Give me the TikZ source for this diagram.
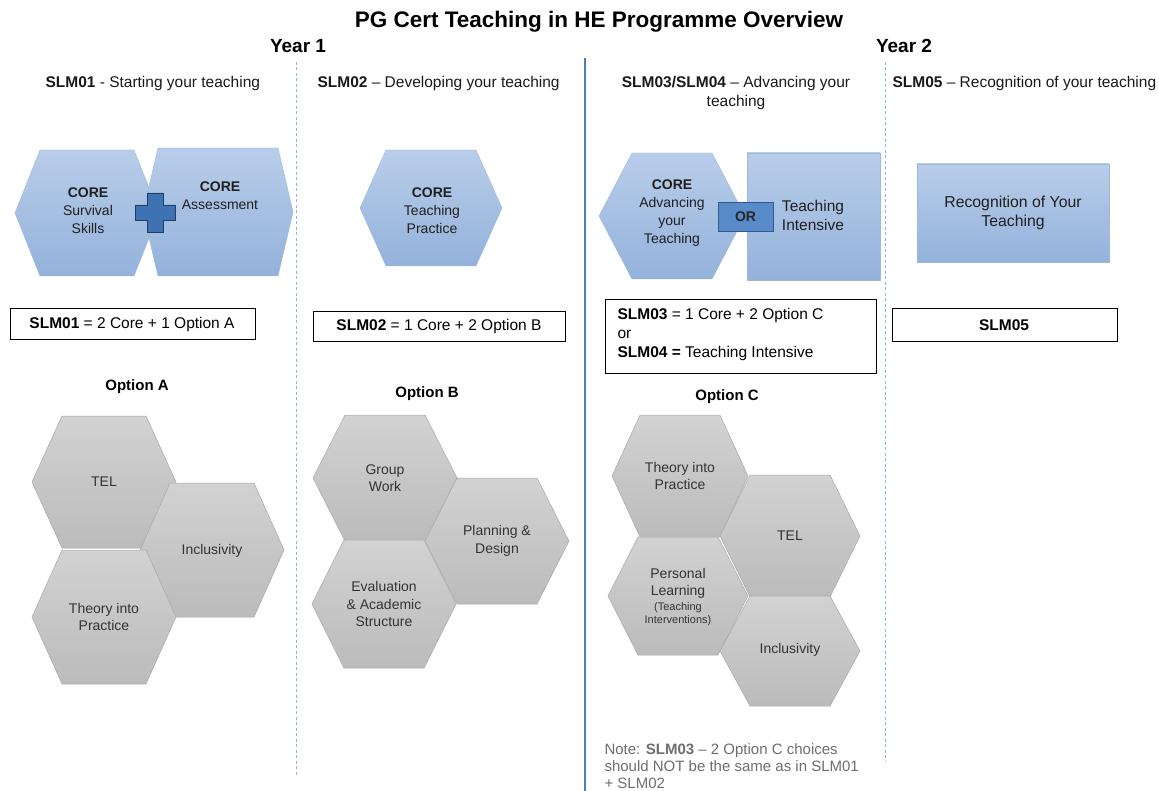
\documentclass[tikz,border=0pt]{standalone}
\usepackage{fontspec}
\setmainfont{Liberation Sans}
\begin{document}
\begin{tikzpicture}[x=1pt,y=-1pt,
  bluehex/.style={top color=bluetop, bottom color=bluebot, draw=blueedge, line width=0.4pt},
  grayhex/.style={top color=graytop, bottom color=graybot, draw=grayedge, line width=0.5pt},
  bluerect/.style={top color=bluetop, bottom color=bluebot, draw=blueedge, line width=0.6pt},
  hextext/.style={align=center, font=\fontsize{14}{18}\selectfont, text=black!88},
  graytext/.style={align=center, font=\fontsize{14}{17.5}\selectfont, text=black!80},
  headtext/.style={anchor=west, font=\fontsize{15.5}{19}\selectfont, text=black!90},
  formbox/.style={draw=black, line width=0.9pt, fill=white},
  formtext/.style={font=\fontsize{15.5}{19}\selectfont},
  optlabel/.style={font=\bfseries\fontsize{15}{17}\selectfont},
  yeardash/.style={draw=dashblue, line width=0.8pt, dash pattern=on 3pt off 2.5pt},
]
\definecolor{bluetop}{HTML}{B9CDE9}
\definecolor{bluebot}{HTML}{93B2DB}
\definecolor{blueedge}{HTML}{9DB8DE}
\definecolor{graytop}{HTML}{D2D2D2}
\definecolor{graybot}{HTML}{BBBBBB}
\definecolor{grayedge}{HTML}{A9A9A9}
\definecolor{dashblue}{HTML}{8EB4E3}
\definecolor{solidblue}{HTML}{4A7EBB}
\definecolor{crossfill}{HTML}{3F72B3}
\definecolor{crossedge}{HTML}{1E3C66}
\definecolor{orfill}{HTML}{5A8BC9}
\definecolor{oredge}{HTML}{2F5B93}
\definecolor{notegray}{HTML}{6E6E6E}

\newcommand{\hexagonat}[6]{%
  \path[#1] (#2-#4,#3) -- (#2-#5,#3-#6) -- (#2+#5,#3-#6) -- (#2+#4,#3)
    -- (#2+#5,#3+#6) -- (#2-#5,#3+#6) -- cycle;}

\useasboundingbox (0,0) rectangle (1159,791);
\fill[white] (0,0) rectangle (1159,791);

% title and years
\node[font=\bfseries\fontsize{22.5}{25}\selectfont] (title) at (599,22) {PG Cert Teaching in HE Programme Overview};
\node[font=\bfseries\fontsize{19}{22}\selectfont] (year1) at (298,46) {Year 1};
\node[font=\bfseries\fontsize{19}{22}\selectfont] (year2) at (904,46) {Year 2};

% separators
\coordinate (d1t) at (296,62); \coordinate (d1b) at (296,776);
\coordinate (d2t) at (885,62); \coordinate (d2b) at (885,762);
\coordinate (st) at (585,58); \coordinate (sb) at (585,791);
\draw[yeardash] (d1t) -- (d1b);
\draw[yeardash] (d2t) -- (d2b);
\draw[solidblue, line width=1.6pt] (st) -- (sb);

% headers
\node[headtext] (h1) at (42,83) {\textbf{SLM01} - Starting your teaching};
\node[headtext] (h2) at (314,83) {\textbf{SLM02} – Developing your teaching};
\node[headtext, align=center, anchor=north] (h3) at (736,73) {\textbf{SLM03/SLM04} – Advancing your\\teaching};
\node[headtext] (h5) at (889,83) {\textbf{SLM05} – Recognition of your teaching};

% core hexes
\hexagonat{bluehex}{87}{213}{72}{47}{63}
\hexagonat{bluehex}{218}{212}{75}{60}{64}
\node[hextext] (survival) at (88,211) {\textbf{CORE}\\Survival\\Skills};
\node[hextext] (assess) at (220,196) {\textbf{CORE}\\Assessment};
\path[fill=crossfill, draw=crossedge, line width=0.8pt]
  (147,193) -- (163,193) -- (163,205) -- (175,205) -- (175,220) -- (163,220)
  -- (163,232) -- (147,232) -- (147,220) -- (135,220) -- (135,205) -- (147,205) -- cycle;
\coordinate (plus) at (155,212);

\hexagonat{bluehex}{431}{208}{71}{45}{58}
\node[hextext] (practice) at (432,211) {\textbf{CORE}\\Teaching\\Practice};

\hexagonat{bluehex}{672}{216}{73}{40}{63}
\node[hextext] (advancing) at (672,213) {\textbf{CORE}\\Advancing\\your\\Teaching};
\path[bluerect] (747,153) rectangle (880,280);
\node[hextext, font=\fontsize{15.5}{19}\selectfont] (intensive) at (813,215) {Teaching\\Intensive};
\node[draw=oredge, fill=orfill, line width=0.8pt, minimum width=55pt, minimum height=29pt,
      font=\bfseries\fontsize{14}{15}\selectfont, text=black!85] (or) at (745.5,216.5) {OR};

\path[bluerect] (917,164) rectangle (1109,262);
\node[hextext, font=\fontsize{15.8}{19}\selectfont] (recog) at (1013,213) {Recognition of Your\\Teaching};

% formula boxes
\path[formbox] (10,308) rectangle (255,339);
\node[formtext] (f1) at (132,324) {\textbf{SLM01} = 2 Core + 1 Option A};
\path[formbox] (313,311) rectangle (565,341);
\node[formtext] (f2) at (439,326) {\textbf{SLM02} = 1 Core + 2 Option B};
\path[formbox] (605,299) rectangle (876,373);
\node[formtext, align=left, anchor=west, font=\fontsize{15.5}{19}\selectfont] (f3) at (614,334)
  {\textbf{SLM03} = 1 Core + 2 Option C\\or\\\textbf{SLM04 =} Teaching Intensive};
\path[formbox] (892,308) rectangle (1117,341);
\node[formtext] (f5) at (1004,325) {\textbf{SLM05}};

% option labels
\node[optlabel] (optA) at (137,387) {Option A};
\node[optlabel] (optB) at (427,394) {Option B};
\node[optlabel] (optC) at (727,397) {Option C};

% Option A
\hexagonat{grayhex}{104}{482}{72}{42}{66}
\hexagonat{grayhex}{212}{550}{72}{42}{67}
\hexagonat{grayhex}{104}{617}{72}{42}{67}
\node[graytext] (a1) at (104,482) {TEL};
\node[graytext] (a2) at (212,551) {Inclusivity};
\node[graytext] (a3) at (104,617) {Theory into\\Practice};

% Option B
\hexagonat{grayhex}{385}{478}{72}{40}{63}
\hexagonat{grayhex}{497}{541}{72}{40}{63}
\hexagonat{grayhex}{384}{604}{72}{40}{64}
\node[graytext] (b1) at (385,478) {Group\\Work};
\node[graytext] (b2) at (497,541) {Planning \&\\Design};
\node[graytext] (b3) at (384,604) {Evaluation\\\& Academic\\Structure};

% Option C
\hexagonat{grayhex}{680}{476}{68}{40}{61}
\hexagonat{grayhex}{790}{536}{70}{40}{61}
\hexagonat{grayhex}{678}{596}{70}{40}{59}
\hexagonat{grayhex}{790}{651}{70}{40}{55}
\node[graytext] (c1) at (680,476) {Theory into\\Practice};
\node[graytext] (c2) at (790,536) {TEL};
\node[graytext, align=center] (c3) at (678,597) {Personal\\Learning\\[-3pt]{\fontsize{11}{13}\selectfont (Teaching}\\[-4pt]{\fontsize{11}{13}\selectfont Interventions)}};
\node[graytext] (c4) at (790,650) {Inclusivity};

% note
\node[anchor=north west, align=left, text=notegray, font=\fontsize{15}{17}\selectfont] (note) at (601,740)
  {Note: \textbf{SLM03} – 2 Option C choices\\should NOT be the same as in SLM01\\+ SLM02};
\end{tikzpicture}
\end{document}
